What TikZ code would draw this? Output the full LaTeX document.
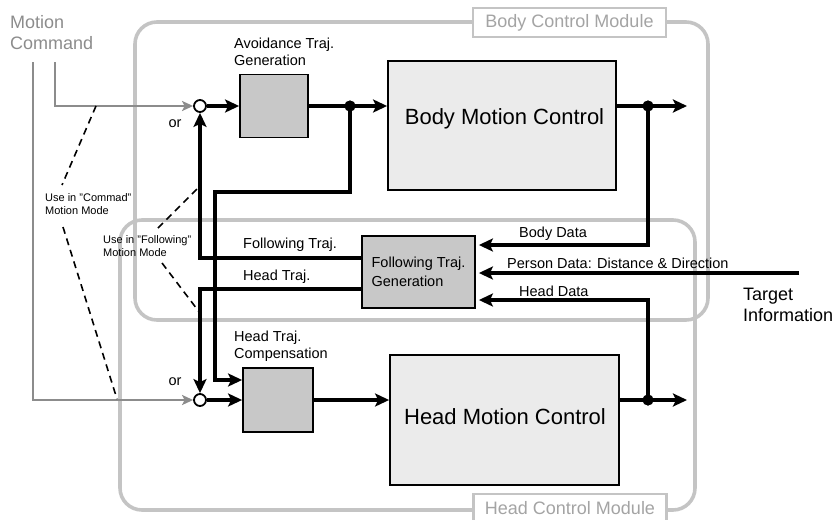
\documentclass[tikz,border=0pt]{standalone}
\usepackage{fontspec}
\setmainfont{Liberation Sans}
\usetikzlibrary{arrows.meta}
\definecolor{modgray}{HTML}{C4C4C4}
\definecolor{labgray}{HTML}{A4A4A4}
\definecolor{cmdgray}{HTML}{8C8C8C}
\definecolor{boxdark}{HTML}{C8C8C8}
\definecolor{boxlight}{HTML}{EBEBEB}
\begin{document}
\begin{tikzpicture}[x=1pt,y=-1pt,
  module/.style={draw=modgray, line width=3.6pt, rounded corners=22pt, inner sep=0pt},
  modlabel/.style={draw=modgray, line width=2.8pt, fill=white, text=labgray, font=\fontsize{18}{21}\selectfont, minimum width=193pt, minimum height=29pt, inner sep=0pt},
  smallbox/.style={draw, line width=1.8pt, fill=boxdark, inner sep=0pt},
  bigbox/.style={draw, line width=1.8pt, fill=boxlight, inner sep=0pt},
  bigtext/.style={font=\fontsize{22}{26}\selectfont, inner sep=0pt},
  conn/.style={line width=3.4pt, -{Stealth[length=14pt,width=13pt,inset=3pt]}},
  grayconn/.style={draw=cmdgray, line width=2.8pt, -{Stealth[length=11pt,width=10pt,inset=2.5pt]}},
  dashline/.style={line width=1.6pt, dash pattern=on 7pt off 5pt},
  junction/.style={circle, fill, inner sep=0pt, minimum size=11pt},
  sumpt/.style={circle, draw, line width=1.8pt, fill=white, inner sep=0pt, minimum size=12pt},
  lbl/.style={font=\fontsize{14.5}{17}\selectfont, inner sep=0pt},
  tiny/.style={font=\fontsize{11}{13}\selectfont, inner sep=0pt, align=left, anchor=west},
  big/.style={font=\fontsize{18}{21}\selectfont, inner sep=0pt, align=left, anchor=west}
]
\useasboundingbox (0,0) rectangle (837,519);

% modules
\node[module, minimum width=573pt, minimum height=298pt] (bodymod) at (421.5,171) {};
\node[module, minimum width=575pt, minimum height=290pt] (headmod) at (407.5,365) {};
\node[modlabel] (bodylab) at (569.5,22.5) {Body Control Module};
\node[modlabel] (headlab) at (570,508.5) {Head Control Module};

% outside labels
\node[big, text=cmdgray] (mcmd) at (10,32.5) {Motion\\Command};
\node[big] (target) at (743,304.5) {Target\\Information};

% boxes
\node[smallbox, minimum width=68pt, minimum height=63pt] (avoid) at (274,106) {};
\node[smallbox, minimum width=70pt, minimum height=64pt] (hcomp) at (278,400) {};
\node[smallbox, minimum width=113pt, minimum height=72pt, lbl, align=left, font=\fontsize{14.5}{18.5}\selectfont] (foll) at (418.5,272) {Following Traj.\\Generation};
\node[bigbox, minimum width=228pt, minimum height=129pt] (bmc) at (502,125.5) {};
\node[bigtext] (bmctext) at (504.5,119) {Body Motion Control};
\node[bigbox, minimum width=229pt, minimum height=130pt] (hmc) at (504.5,420) {};
\node[bigtext] (hmctext) at (505,417) {Head Motion Control};

% box labels
\node[lbl, align=left, anchor=west] (avoidlab) at (234,51.5) {Avoidance Traj.\\Generation};
\node[lbl, align=left, anchor=west] (hcomplab) at (234,346) {Head Traj.\\Compensation};
\node[lbl] (or1) at (175,124) {or};
\node[lbl] (or2) at (175,382) {or};
\node[lbl, anchor=west] (ftlab) at (243,245) {Following Traj.};
\node[lbl, anchor=west] (htlab) at (243,277) {Head Traj.};
\node[lbl, anchor=west] (bdlab) at (519,234) {Body Data};
\node[lbl, anchor=west] (pdlab) at (507,263) {Person Data: Distance \& Direction};
\node[lbl, anchor=west] (hdlab) at (519,291) {Head Data};
\node[tiny] (usecmd) at (45,204.5) {Use in "Commad"\\Motion Mode};
\node[tiny] (usefol) at (103,246) {Use in "Following"\\Motion Mode};

% summing points and junctions
\node[sumpt] (c1) at (200,106) {};
\node[sumpt] (c2) at (200,400) {};
\node[junction] (j1) at (350,106) {};
\node[junction] (j2) at (648,106) {};
\node[junction] (j3) at (648,400) {};

% coordinates
\coordinate (mcA) at (55,62);
\coordinate (mcB) at (33,62);
\coordinate (b2) at (215,192);
\coordinate (bout) at (687,106);
\coordinate (hout) at (687,400);
\coordinate (tgt) at (799,273);
\coordinate (dc1a) at (96,106);
\coordinate (dc1b) at (62,185);
\coordinate (dc2a) at (63,227);
\coordinate (dc2b) at (117,399);
\coordinate (df1a) at (158,228);
\coordinate (df1b) at (199,187);
\coordinate (df2a) at (162,263);
\coordinate (df2b) at (200,313);

% gray command paths
\draw[grayconn] (mcA) |- (c1.west);
\draw[grayconn] (mcB) |- (c2.west);

% dashed hints
\draw[dashline] (dc1a) -- (dc1b);
\draw[dashline] (dc2a) -- (dc2b);
\draw[dashline] (df1a) -- (df1b);
\draw[dashline] (df2a) -- (df2b);

% black connectors
\draw[conn] (c1.east) -- (c1.east -| avoid.west);
\draw[conn] (avoid.east) -- (avoid.east -| bmc.west);
\draw[conn] (j1.center) |- (b2) |- ([yshift=20pt]hcomp.west);
\draw[conn] ([yshift=14pt]foll.west) -| (c1.south);
\draw[conn] ([yshift=-17pt]foll.west) -| (c2.north);
\draw[conn] (c2.east) -- (hcomp.west);
\draw[conn] (hcomp.east) -- (hcomp.east -| hmc.west);
\draw[conn] (bmc.east |- avoid.east) -- (bout);
\draw[conn] (hmc.east |- hcomp.east) -- (hout);
\draw[conn, shorten >=3pt] (j2.center) |- ([yshift=27pt]foll.east);
\draw[conn, shorten >=3pt] (tgt) -- (tgt -| foll.east);
\draw[conn, shorten >=3pt] (j3.center) |- ([yshift=-28pt]foll.east);

% redraw dots on top
\node[junction] at (j1) {};
\node[junction] at (j2) {};
\node[junction] at (j3) {};
\end{tikzpicture}
\end{document}
